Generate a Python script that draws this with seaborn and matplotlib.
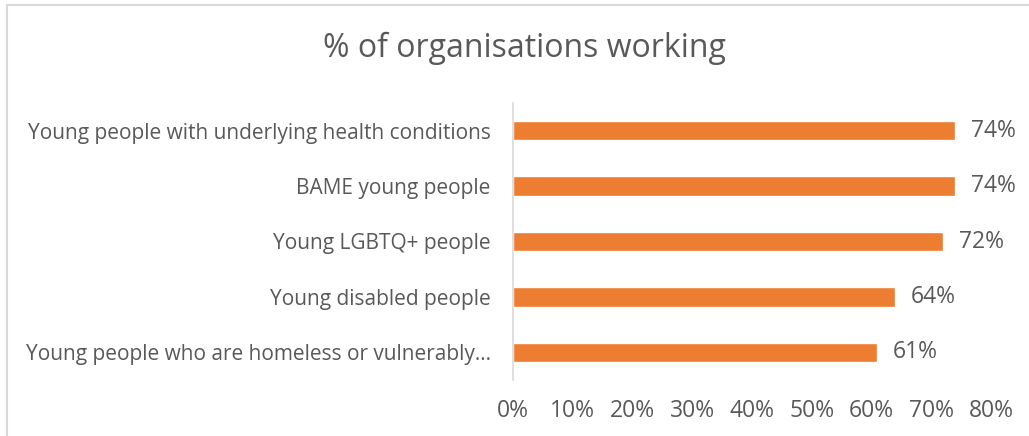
import matplotlib
matplotlib.use("Agg")
import matplotlib.pyplot as plt
from matplotlib.lines import Line2D
import seaborn as sns
import pandas as pd

categories = [
    "Young people with underlying health conditions",
    "BAME young people",
    "Young LGBTQ+ people",
    "Young disabled people",
    "Young people who are homeless or vulnerably\u2026",
]
values = [74, 74, 72, 64, 61]
tick_values = [0, 10, 20, 30, 40, 50, 60, 70, 80]
tick_labels = [f"{v}%" for v in tick_values]
title = "% of organisations working"

sns.set_theme(style="white")
plt.rcParams["font.family"] = ["Open Sans", "DejaVu Sans"]

TEXT = "#595959"
BAR = "#ED7D31"

df = pd.DataFrame({"group": categories, "pct": values})

fig = plt.figure(figsize=(10.29, 4.36), dpi=100)
ax = fig.add_axes([513 / 1029, 1 - 380 / 436, 478 / 1029, 277 / 436])

sns.barplot(data=df, x="pct", y="group", orient="h", color=BAR,
            width=0.35, saturation=1, ax=ax)

ax.set_xlim(0, 80)
ax.set_ylim(4.5, -0.5)
ax.set_xticks(tick_values)
ax.set_xticklabels(tick_labels, fontsize=16.5, color=TEXT)
ax.tick_params(axis="x", length=0, pad=14)
ax.tick_params(axis="y", length=0, pad=16, labelsize=15, labelcolor=TEXT)
ax.set_xlabel("")
ax.set_ylabel("")

for s in ["top", "right", "bottom"]:
    ax.spines[s].set_visible(False)
ax.spines["left"].set_color("#D9D9D9")
ax.spines["left"].set_linewidth(1.2)

for i, v in enumerate(values):
    ax.text(v + 2.6, i, f"{v}%", va="center", ha="left",
            fontsize=16.5, color=TEXT)

fig.text(524 / 1029, 0.888, title, ha="center", va="center",
         fontsize=23, color=TEXT)

# outer frame (top and left edges)
fig.add_artist(Line2D([7 / 1029, 1.0], [1 - 5 / 436, 1 - 5 / 436],
                      transform=fig.transFigure, color="#D9D9D9", lw=1.5))
fig.add_artist(Line2D([7 / 1029, 7 / 1029], [0.0, 1 - 5 / 436],
                      transform=fig.transFigure, color="#D9D9D9", lw=1.5))

fig.savefig("out.png", dpi=100, facecolor="white")
